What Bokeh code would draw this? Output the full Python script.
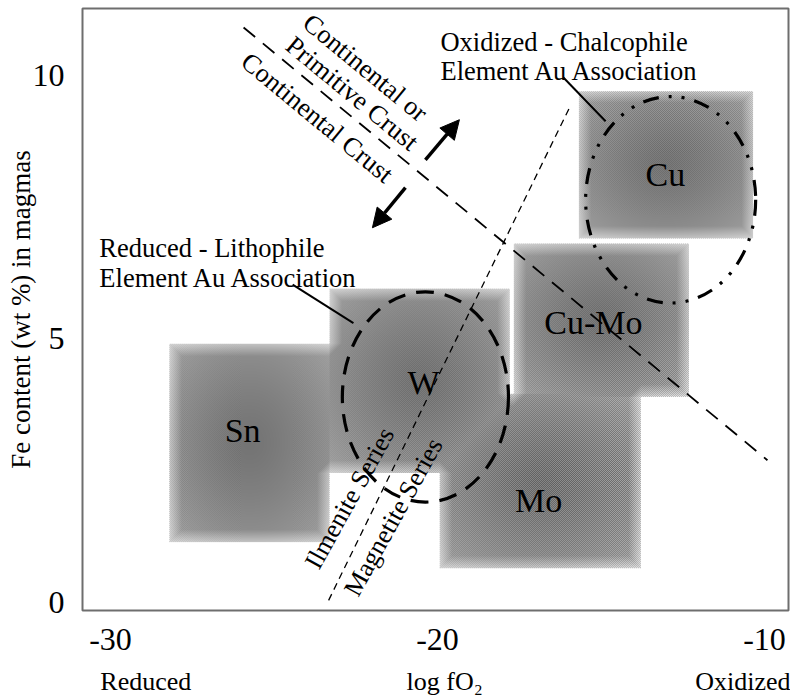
import numpy as np
from bokeh.plotting import figure
from bokeh.models import Range1d, Arrow, NormalHead, LinearAxis, FixedTicker
from bokeh.core.properties import value
from bokeh.embed import file_html
from bokeh.resources import INLINE

# ---------------- data ----------------
x_ticks = [-30, -20, -10]
x_tick_labels = {-30: "-30", -20: "-20", -10: "-10"}
y_ticks = [0, 5, 10]

bottom_label_pos = [-28.92, -19.78, -10.62]
bottom_labels = ["Reduced", "log fO\u2082", "Oxidized"]
y_title = "Fe content (wt %) in magmas"

box_names = ["Sn", "W", "Mo", "Cu-Mo", "Cu"]
box_x0 = [-28.2, -23.3, -19.95, -17.7, -15.7]
box_x1 = [-23.3, -17.8, -13.8, -12.35, -10.35]
box_y0 = [1.15, 2.45, 0.65, 3.9, 6.9]
box_y1 = [4.9, 5.95, 3.95, 6.8, 9.7]

name_x = [-25.96, -20.43, -16.91, -15.23, -13.03]
name_y = [3.27, 4.18, 1.94, 5.32, 8.12]

# Reduced (lithophile) and oxidized (chalcophile) fields
ell_x = [-20.37, -12.87]
ell_y = [3.90, 7.64]
ell_w = [5.08, 5.2]
ell_h = [3.99, 3.92]

crust_line_x = [-25.93, -9.91]
crust_line_y = [10.91, 2.70]
series_line_x = [-23.33, -15.93]
series_line_y = [0.04, 9.43]

arrow_up = (-20.37, 8.40, -19.33, 9.16)
arrow_down = (-20.98, 7.87, -21.99, 7.11)

crust_text = ["Continental or", "Primitive Crust", "Continental Crust"]
crust_text_x = [-22.20, -22.60, -23.67]
crust_text_y = [10.15, 9.66, 9.20]

series_text = ["Ilmenite Series", "Magnetite Series"]
series_text_x = [-22.69, -21.35]
series_text_y = [1.98, 1.62]

assoc_text = ["Oxidized - Chalcophile", "Element Au Association",
              "Reduced - Lithophile", "Element Au Association"]
assoc_x = [-19.91, -19.91, -30.34, -30.34]
assoc_y = [10.63, 10.08, 6.73, 6.16]
pointer_x0 = [-16.15, -24.43]
pointer_y0 = [9.96, 6.03]
pointer_x1 = [-14.86, -22.57]
pointer_y1 = [9.13, 5.30]

# ---------------- figure ----------------
X0, X1 = -30.856, -9.266
Y0, Y1 = -0.152, 11.27
FRAME_W, FRAME_H = 706, 602
FONT = "Liberation Serif"

p = figure(width=790, height=698, output_backend="svg", toolbar_location=None,
           x_range=Range1d(X0, X1), y_range=Range1d(Y0, Y1),
           min_border_left=82, min_border_right=2, min_border_top=8,
           min_border_bottom=88)
p.background_fill_color = "white"
p.border_fill_color = "white"
p.outline_line_color = "#6e6e6e"
p.outline_line_width = 2
p.grid.visible = False

for ax, ticks in ((p.xaxis, x_ticks), (p.yaxis, y_ticks)):
    ax.ticker = ticks
    ax.axis_line_color = None
    ax.major_tick_line_color = None
    ax.minor_tick_line_color = None
    ax.major_tick_out = 0
    ax.major_tick_in = 0
    ax.minor_tick_out = 0
    ax.minor_tick_in = 0
    ax.major_label_text_font = FONT
    ax.major_label_text_font_size = "32px"
    ax.major_label_text_color = "black"
p.xaxis.major_label_overrides = x_tick_labels
p.xaxis.major_label_standoff = 18
p.yaxis.major_label_standoff = 18
p.yaxis.axis_label = y_title
p.yaxis.axis_label_text_font = FONT
p.yaxis.axis_label_text_font_size = "27px"
p.yaxis.axis_label_text_font_style = "normal"
p.yaxis.axis_label_text_color = "black"
p.yaxis.axis_label_standoff = -6

ax2 = LinearAxis(ticker=FixedTicker(ticks=bottom_label_pos),
                 major_label_overrides=dict(zip(bottom_label_pos, bottom_labels)))
ax2.axis_line_color = None
ax2.major_tick_line_color = None
ax2.minor_tick_line_color = None
ax2.major_tick_out = 0
ax2.major_tick_in = 0
ax2.minor_tick_out = 0
ax2.minor_tick_in = 0
ax2.major_label_text_font = FONT
ax2.major_label_text_font_size = "26px"
ax2.major_label_text_color = "black"
ax2.major_label_standoff = 14
p.add_layout(ax2, "below")

# ---------------- shaded fields (halftone-like gradient) ----------------
gx0, gx1 = min(box_x0), max(box_x1)
gy0, gy1 = min(box_y0), max(box_y1)
pxu = FRAME_W / (X1 - X0)
pyu = FRAME_H / (Y1 - Y0)
nx = int(round((gx1 - gx0) * pxu))
ny = int(round((gy1 - gy0) * pyu))
xs = gx0 + (np.arange(nx) + 0.5) / nx * (gx1 - gx0)
ys = gy0 + (np.arange(ny) + 0.5) / ny * (gy1 - gy0)
XX, YY = np.meshgrid(xs, ys)
gray = np.full((ny, nx), 999.0)
for a0, a1, b0, b1 in zip(box_x0, box_x1, box_y0, box_y1):
    inside = (XX >= a0) & (XX <= a1) & (YY >= b0) & (YY <= b1)
    cx, cy = (a0 + a1) / 2, (b0 + b1) / 2
    u = (XX - cx) / ((a1 - a0) / 2)
    v = (YY - cy) / ((b1 - b0) / 2)
    r = np.sqrt((u ** 2 + v ** 2) / 2)
    g = 116 + 46 * r ** 1.3
    gray = np.where(inside, np.minimum(gray, g), gray)
mask = gray < 999

# soft light rim along the outer boundary of the shaded union
depth = np.zeros((ny, nx))
cur = mask.copy()
RIM = 12
for k in range(RIM):
    pad = np.pad(cur, 1, constant_values=False)
    cur = (pad[1:-1, 1:-1] & pad[:-2, 1:-1] & pad[2:, 1:-1]
           & pad[1:-1, :-2] & pad[1:-1, 2:])
    depth += cur
gray = gray + (RIM - depth) * 4.0

ii, jj = np.meshgrid(np.arange(nx), np.arange(ny))
checker = ((ii + jj) % 2) * 2 - 1
amp = 28.0
gfin = np.clip(gray + checker * amp, 0, 255)
img = np.zeros((ny, nx), dtype=np.uint32)
view = img.view(dtype=np.uint8).reshape((ny, nx, 4))
view[..., 0] = gfin.astype(np.uint8)
view[..., 1] = gfin.astype(np.uint8)
view[..., 2] = gfin.astype(np.uint8)
view[..., 3] = np.where(mask, 255, 0).astype(np.uint8)
p.image_rgba(image=[img], x=gx0, y=gy0, dw=gx1 - gx0, dh=gy1 - gy0)

# ---------------- lines ----------------
p.line(crust_line_x, crust_line_y, line_color="black", line_width=1.8,
       line_dash="15 10")
p.line(series_line_x, series_line_y, line_color="black", line_width=1.3,
       line_dash="7 5")

p.ellipse(x=[ell_x[0]], y=[ell_y[0]], width=[ell_w[0]], height=[ell_h[0]],
          fill_alpha=0, line_color="black", line_width=3.2, line_dash="18 11")
p.ellipse(x=[ell_x[1]], y=[ell_y[1]], width=[ell_w[1]], height=[ell_h[1]],
          fill_alpha=0, line_color="black", line_width=3.2,
          line_dash="16 10 3 10 3 10")

p.segment(x0=pointer_x0, y0=pointer_y0, x1=pointer_x1, y1=pointer_y1,
          line_color="black", line_width=2)

for (sx, sy, ex, ey) in (arrow_up, arrow_down):
    p.add_layout(Arrow(end=NormalHead(size=19, fill_color="black",
                                      line_color="black"),
                       x_start=sx, y_start=sy, x_end=ex, y_end=ey,
                       line_width=3.5, line_color="black"))

# ---------------- texts ----------------
p.text(x=name_x, y=name_y, text=box_names, text_font=value(FONT),
       text_font_size="34px", text_align="center", text_baseline="middle",
       text_color="black")
p.text(x=crust_text_x, y=crust_text_y, text=crust_text, angle=-39.5,
       angle_units="deg", text_font=value(FONT), text_font_size="26.5px",
       text_align="center", text_baseline="middle", text_color="black")
p.text(x=series_text_x, y=series_text_y, text=series_text, angle=61,
       angle_units="deg", text_font=value(FONT), text_font_size="26px",
       text_align="center", text_baseline="middle", text_color="black")
p.text(x=assoc_x, y=assoc_y, text=assoc_text, text_font=value(FONT),
       text_font_size="26.5px", text_align="left", text_baseline="alphabetic",
       text_color="black")

open("out.html", "w").write(file_html(p, INLINE))
